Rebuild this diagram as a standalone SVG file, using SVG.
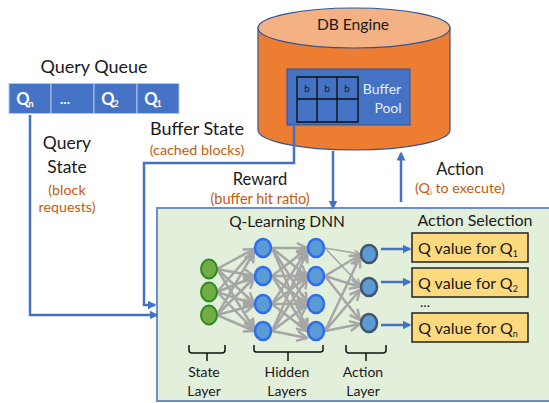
<svg xmlns="http://www.w3.org/2000/svg" width="549" height="403" viewBox="0 0 549 403">
<style>
text{font-family:"Lato","Open Sans","Liberation Sans",sans-serif;fill:#1a1a1a;font-size:16.5px;text-anchor:middle}
.big{font-size:18px}
.o{fill:#c55a11;font-size:14.300px}
.w{fill:#fff;font-weight:700;font-size:16.500px}
.s{font-size:14px}
.sub{font-size:10px}
.cell{fill:#4472c4;stroke:#b4c7e7;stroke-width:1}
.c{fill:none;stroke:#4472c4;stroke-width:2.500}
.g line{stroke:#a6a6a6;stroke-width:2.500;marker-end:url(#ga)}
.sn{fill:#70ad47;stroke:#2e8b1f;stroke-width:2}
.hn{fill:#5b9bd5;stroke:#2f6df0;stroke-width:2.500}
.an{fill:#5b9bd5;stroke:#44546a;stroke-width:2.500}
.q{fill:#ffd97d;stroke:#222;stroke-width:1.500}
.b{fill:none;stroke:#111;stroke-width:1.500}
</style>
<defs>
<marker id="ba" markerWidth="3.600" markerHeight="3.600" refX="3" refY="1.800" orient="auto"><path d="M0 0L3.600 1.800L0 3.600Z" fill="#4472c4"/></marker>
<marker id="ga" markerWidth="5" markerHeight="5" refX="4.500" refY="2.500" orient="auto"><path d="M0.400 0.500L4.500 2.500L0.400 4.500" fill="none" stroke="#a6a6a6" stroke-width="1"/></marker>
</defs>
<g id="db-engine">
<path d="M258 28V130C258 141 300 150 354 150S450 141 450 130V28Z" fill="#ed7d31" stroke="#2f5597" stroke-width="1.200"/>
<ellipse cx="354" cy="28" rx="96" ry="20" fill="#f4b183" stroke="#2f5597" stroke-width="1.200"/>
<text x="353" y="30" style="font-size:15.600px">DB Engine</text>
</g>
<g id="buffer-pool">
<rect x="287" y="69" width="123" height="56" fill="#4472c4" stroke="#2f5597"/>
<path d="M297 77H358V122H297ZM317 77V122M337 77V122M297 99H358" fill="none" stroke="#111" stroke-width="1.400"/>
<text x="307" y="92" style="font-size:10px">b</text><text x="327" y="92" style="font-size:10px">b</text><text x="347" y="92" style="font-size:10px">b</text>
<text x="382" y="94" class="s" style="fill:#e8eefa">Buffer</text>
<text x="388" y="113" class="s" style="fill:#e8eefa">Pool</text>
</g>
<g id="query-queue">
<text x="94" y="73" class="big">Query Queue</text>
<rect class="cell" x="9" y="83.500" width="42" height="30"/><rect class="cell" x="51" y="83.500" width="43" height="30"/><rect class="cell" x="94" y="83.500" width="43" height="30"/><rect class="cell" x="137" y="83.500" width="42" height="30"/>
<text x="23" y="105" class="w">Q</text><text x="31" y="107" class="w sub" style="font-size:9px">n</text>
<text x="65" y="104" class="w" style="font-size:14px">...</text>
<text x="108" y="105" class="w">Q</text><text x="116" y="107" class="w sub" style="font-size:9px">2</text>
<text x="151" y="105" class="w">Q</text><text x="159" y="107" class="w sub" style="font-size:9px">1</text>
</g>
<g id="dnn-box">
<rect x="157" y="208" width="393" height="193" fill="#e2efda" stroke="#6f8fbf" stroke-width="2"/>
<text x="287" y="227" style="font-size:15.500px">Q-Learning DNN</text>
<text x="475" y="226" style="font-size:16px">Action Selection</text>
</g>
<g id="connectors">
<path class="c" d="M294 126V163H144V305H155" marker-end="url(#ba)"/>
<path class="c" d="M30 115V315H157" marker-end="url(#ba)"/>
<path class="c" d="M333 151V208" marker-end="url(#ba)"/>
<path class="c" d="M401 202V153" marker-end="url(#ba)"/>
<path class="c" d="M381 249H410" marker-end="url(#ba)"/>
<path class="c" d="M381 282H410" marker-end="url(#ba)"/>
<path class="c" d="M381 325H410" marker-end="url(#ba)"/>
</g>
<g id="edges" class="g">
<line x1="217" y1="269" x2="254" y2="249"/><line x1="217" y1="269" x2="254" y2="276"/><line x1="217" y1="269" x2="254" y2="303"/><line x1="217" y1="269" x2="254" y2="329"/>
<line x1="217" y1="292" x2="254" y2="250"/><line x1="217" y1="292" x2="254" y2="277"/><line x1="217" y1="292" x2="254" y2="304"/><line x1="217" y1="292" x2="254" y2="330"/>
<line x1="217" y1="315" x2="254" y2="252"/><line x1="217" y1="315" x2="254" y2="278"/><line x1="217" y1="315" x2="254" y2="305"/><line x1="217" y1="315" x2="254" y2="331"/>
<line x1="272" y1="248" x2="307" y2="248"/><line x1="272" y1="248" x2="307" y2="276"/><line x1="272" y1="248" x2="307" y2="303"/><line x1="272" y1="248" x2="307" y2="329"/>
<line x1="272" y1="276" x2="307" y2="249"/><line x1="272" y1="276" x2="307" y2="276"/><line x1="272" y1="276" x2="307" y2="304"/><line x1="272" y1="276" x2="307" y2="330"/>
<line x1="272" y1="304" x2="307" y2="250"/><line x1="272" y1="304" x2="307" y2="277"/><line x1="272" y1="304" x2="307" y2="304"/><line x1="272" y1="304" x2="307" y2="331"/>
<line x1="272" y1="331" x2="307" y2="252"/><line x1="272" y1="331" x2="307" y2="278"/><line x1="272" y1="331" x2="307" y2="305"/><line x1="272" y1="331" x2="307" y2="338"/>
<line x1="325" y1="248" x2="360" y2="285" style="stroke-width:1.500"/><line x1="325" y1="248" x2="360" y2="254" style="stroke-width:1.500"/>
<line x1="325" y1="276" x2="360" y2="255"/><line x1="325" y1="276" x2="360" y2="287"/><line x1="325" y1="276" x2="360" y2="320"/>
<line x1="325" y1="331" x2="360" y2="257"/><line x1="325" y1="331" x2="360" y2="290"/><line x1="325" y1="331" x2="360" y2="324"/>
</g>
<g id="state-layer">
<ellipse class="sn" cx="209" cy="269" rx="8" ry="9.500"/><ellipse class="sn" cx="209" cy="292" rx="8" ry="9.500"/><ellipse class="sn" cx="209" cy="315" rx="8" ry="9.500"/>
<path class="b" d="M189 345V350Q189 353 192 353H222Q225 353 225 350V345M207 353V361"/>
<text x="204" y="377" class="s">State</text><text x="204" y="396" class="s">Layer</text>
</g>
<g id="hidden-layers">
<ellipse class="hn" cx="263" cy="248" rx="8" ry="9"/><ellipse class="hn" cx="263" cy="276" rx="8" ry="9"/><ellipse class="hn" cx="263" cy="304" rx="8" ry="9"/><ellipse class="hn" cx="263" cy="331" rx="8" ry="9"/>
<ellipse class="hn" cx="316" cy="248" rx="8" ry="9"/><ellipse class="hn" cx="316" cy="276" rx="8" ry="9"/><ellipse class="hn" cx="316" cy="304" rx="8" ry="9"/><ellipse class="hn" cx="316" cy="331" rx="8" ry="9"/>
<path class="b" d="M254 345V350Q254 352 257 352H320Q323 352 323 350V345M288 352V361"/>
<text x="287" y="377" class="s">Hidden</text><text x="287" y="396" class="s">Layers</text>
</g>
<g id="action-layer">
<ellipse class="an" cx="369" cy="254" rx="8" ry="9"/><ellipse class="an" cx="369" cy="287" rx="8" ry="9"/><ellipse class="an" cx="369" cy="323" rx="8" ry="9"/>
<path class="b" d="M346 345V350Q346 353 349 353H383Q386 353 386 350V345M366 353V361"/>
<text x="363" y="377" class="s">Action</text><text x="363" y="396" class="s">Layer</text>
</g>
<g id="q-values">
<rect class="q" x="412" y="233" width="116" height="29"/><text x="468" y="254" style="font-size:16px">Q value for Q<tspan style="font-size:9px" dy="3">1</tspan></text>
<rect class="q" x="412" y="268" width="116" height="29"/><text x="468" y="289" style="font-size:16px">Q value for Q<tspan style="font-size:9px" dy="3">2</tspan></text>
<text x="425" y="307" class="s">...</text>
<rect class="q" x="412" y="313" width="116" height="29"/><text x="468" y="334" style="font-size:16px">Q value for Q<tspan style="font-size:9px" dy="3">n</tspan></text>
</g>
<g id="labels">
<text x="67" y="149" style="font-size:17.500px">Query</text><text x="67" y="173" style="font-size:17.500px">State</text>
<text x="67" y="195" class="o">(block</text><text x="67" y="212" class="o">requests)</text>
<text x="197" y="135" class="big">Buffer State</text><text x="197" y="155" class="o">(cached blocks)</text>
<text x="260" y="185">Reward</text><text x="260" y="204" class="o" style="font-size:14.500px">(buffer hit ratio)</text>
<text x="460" y="175">Action</text><text x="460" y="193" class="o">(Q<tspan style="font-size:8px" dy="2">i</tspan><tspan dy="-2"> to execute)</tspan></text>
</g>
</svg>
